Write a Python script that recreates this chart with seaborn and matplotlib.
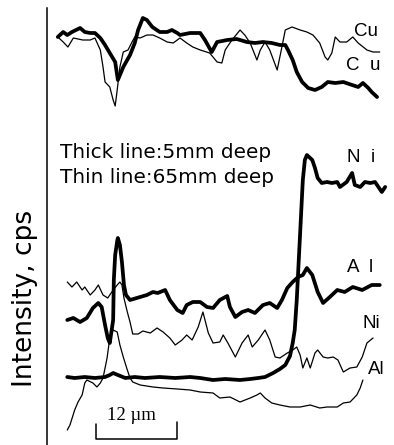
import numpy as np
import pandas as pd
import matplotlib
matplotlib.use("Agg")
import matplotlib.pyplot as plt
import seaborn as sns

sns.set_theme(style="white")
plt.rcParams["font.family"] = ["DejaVu Sans"]

# ---- data: position (um) and intensity (arbitrary cps units) ----
cu_5mm_x = [1.6, 2.4, 3.0, 3.7, 4.9, 5.6, 6.4, 7.1, 7.9, 8.6, 9.3, 10.1, 10.5, 11.3, 12.3, 13.0, 13.5, 14.2, 14.8, 15.6,
            16.7, 17.8, 18.5, 19.3, 19.7, 21.2, 22.7, 23.4, 24.4, 25.2, 26.7, 28.1, 29.6, 30.8, 32.0, 33.3, 34.5, 35.3,
            35.7, 36.4, 37.0, 37.8, 38.7, 39.7, 40.7, 41.6, 42.7, 43.9, 45.2, 46.1, 46.8, 47.6, 48.1, 48.9]
cu_5mm_y = [408, 413, 410, 413, 417, 413, 412, 412, 407, 400, 392, 383, 365, 378, 390, 402, 415, 427, 425, 418,
            413, 413, 415, 412, 410, 412, 412, 405, 393, 403, 405, 406, 403, 402, 403, 402, 400, 400, 395, 385,
            373, 363, 357, 355, 358, 363, 362, 363, 360, 358, 362, 357, 353, 348]

cu_65mm_x = [1.6, 2.4, 3.1, 3.9, 5.3, 6.4, 7.1, 7.9, 8.3, 8.6, 9.3, 9.8, 10.1, 10.4, 10.8, 11.3, 12.0, 12.6, 13.0, 13.8,
             14.8, 15.7, 16.7, 17.8, 18.7, 19.7, 20.7, 21.6, 22.7, 24.1, 25.2, 25.9, 26.4, 27.4, 28.6, 29.3, 30.1, 31.1,
             31.6, 32.3, 33.0, 34.1, 34.8, 35.3, 36.3, 37.5, 38.5, 39.4, 40.4, 41.2, 41.6, 42.2, 42.7, 43.4, 44.4, 45.3,
             46.1, 47.4, 48.3, 49.3]
cu_65mm_y = [408, 403, 398, 407, 405, 405, 407, 395, 378, 363, 358, 345, 339, 355, 378, 393, 395, 403, 408, 407,
             410, 410, 407, 403, 402, 407, 402, 398, 395, 392, 383, 382, 395, 405, 415, 410, 402, 385, 395, 403,
             395, 375, 398, 415, 418, 415, 413, 410, 402, 388, 385, 392, 408, 403, 403, 408, 402, 395, 393, 393]

ni_5mm_x = [3.0, 4.1, 5.6, 7.1, 8.6, 9.3, 9.8, 10.5, 11.6, 13.0, 14.5, 16.7, 19.0, 21.2, 22.7, 24.6, 26.4, 28.6, 30.1, 31.3,
            32.3, 33.5, 34.5, 35.3, 36.0, 36.4, 36.7, 37.0, 37.3, 37.6, 37.9, 38.2, 38.5, 39.3, 39.7, 40.1, 40.7, 41.5,
            42.2, 43.0, 43.4, 44.4, 45.2, 45.6, 46.4, 47.1, 47.9, 48.6, 49.6, 50.1]
ni_5mm_y = [68, 67, 68, 67, 68, 70, 72, 70, 67, 68, 67, 68, 67, 68, 67, 65, 66, 65, 66, 67,
            68, 72, 76, 80, 89, 102, 115, 145, 185, 225, 265, 285, 290, 285, 277, 267, 262, 263, 262, 263,
            258, 263, 272, 260, 258, 263, 262, 263, 253, 258]

ni_65mm_x = [3.0, 3.7, 4.4, 5.2, 5.6, 6.4, 7.1, 7.6, 8.3, 9.0, 9.6, 10.4, 10.8, 11.1, 11.4, 11.9, 12.3, 12.7, 13.5, 14.2,
             15.3, 16.3, 17.2, 18.2, 19.0, 20.0, 20.7, 21.5, 22.4, 23.1, 23.9, 24.6, 25.6, 26.1, 26.8, 27.9, 28.9, 29.8,
             30.4, 31.3, 32.3, 33.0, 33.8, 34.5, 35.6, 36.4, 37.0, 37.5, 37.9, 38.5, 39.0, 39.7, 40.1, 40.9, 41.6, 42.4,
             43.1, 43.9, 44.9, 45.9, 46.7, 47.4, 48.3]
ni_65mm_y = [163, 158, 163, 155, 158, 150, 155, 160, 150, 147, 153, 160, 163, 160, 147, 133, 123, 111, 111, 114,
             112, 117, 113, 107, 100, 105, 110, 105, 118, 133, 112, 102, 103, 110, 102, 88, 102, 110, 98, 105,
             115, 105, 88, 87, 92, 95, 98, 90, 77, 87, 77, 92, 95, 88, 87, 88, 85, 73, 77, 78,
             88, 102, 107]

al_5mm_x = [3.0, 3.9, 4.9, 5.9, 6.8, 7.6, 8.1, 8.6, 9.0, 9.3, 9.8, 9.9, 10.1, 10.4, 10.5, 10.8, 11.1, 11.4, 11.7, 12.3,
            13.3, 14.8, 15.7, 16.4, 17.5, 18.2, 19.3, 20.1, 20.7, 21.6, 22.7, 23.7, 24.6, 25.6, 26.7, 27.1, 27.9, 28.9,
            29.8, 30.8, 32.0, 33.0, 34.1, 34.8, 35.6, 36.4, 37.2, 37.9, 38.5, 39.3, 40.1, 40.9, 41.9, 43.0, 44.1, 45.3,
            46.7, 48.1, 49.3]
al_5mm_y = [125, 127, 123, 127, 137, 142, 138, 120, 107, 102, 125, 165, 190, 204, 207, 200, 183, 160, 150, 145,
            147, 150, 153, 152, 155, 145, 135, 132, 140, 143, 143, 138, 137, 145, 149, 138, 128, 133, 135, 132,
            140, 142, 137, 145, 157, 163, 168, 170, 177, 170, 153, 142, 148, 155, 153, 158, 155, 160, 160]

al_65mm_x = [3.0, 3.4, 4.1, 4.6, 5.2, 5.6, 5.9, 6.8, 7.4, 7.9, 8.3, 8.9, 9.3, 9.8, 10.4, 10.8, 11.3, 11.9, 12.3, 12.7,
             13.8, 15.7, 17.2, 19.3, 21.2, 22.7, 24.6, 25.6, 27.1, 28.6, 30.1, 31.1, 31.6, 32.3, 33.3, 34.5, 36.0, 37.5,
             39.0, 40.4, 41.5, 43.0, 43.9, 44.9, 45.9, 46.4, 46.8]
al_65mm_y = [15, 20, 35, 43, 50, 62, 65, 62, 58, 62, 67, 87, 107, 115, 113, 100, 88, 75, 67, 63,
             60, 58, 57, 56, 55, 53, 52, 47, 48, 43, 47, 50, 52, 47, 42, 40, 38, 38, 40, 37,
             38, 38, 42, 43, 50, 57, 65]

series = [
    ("Cu", "5mm", cu_5mm_x, cu_5mm_y),
    ("Cu", "65mm", cu_65mm_x, cu_65mm_y),
    ("Ni", "5mm", ni_5mm_x, ni_5mm_y),
    ("Ni", "65mm", ni_65mm_x, ni_65mm_y),
    ("Al", "5mm", al_5mm_x, al_5mm_y),
    ("Al", "65mm", al_65mm_x, al_65mm_y),
]
frames = []
for el, depth, xs, ys in series:
    frames.append(pd.DataFrame({"position": xs, "intensity": ys,
                                "element": el, "depth": depth,
                                "trace": f"{el}-{depth}"}))
df = pd.concat(frames, ignore_index=True)

# trace labels
label_text = ["Cu", "C  u", "N  i", "A  l", "Ni", "Al"]
label_x = [45.5, 44.3, 44.5, 44.5, 46.7, 47.5]
label_y = [414, 379, 287, 177, 122, 76]

scale_len_um = 12
scale_x0 = 7.3

# ---- figure ----
fig = plt.figure(figsize=(3.94, 4.45), dpi=100)
fig.patch.set_facecolor("white")
ax = fig.add_axes([47 / 394, 0, 347 / 394, 1])
ax.set_facecolor("white")

sns.lineplot(data=df, x="position", y="intensity", units="trace", estimator=None,
             sort=False, size="depth", sizes={"5mm": 2.7, "65mm": 0.9},
             color="black", legend=False, ax=ax,
             solid_joinstyle="round", solid_capstyle="round")

ax.set_xlim(0, 347 / 6.75)
ax.set_ylim(0, 445)
ax.set_xticks([])
ax.set_yticks([])
ax.set_xlabel("")
ax.set_ylabel("")
for s in ["top", "right", "bottom"]:
    ax.spines[s].set_visible(False)
ax.spines["left"].set_color("black")
ax.spines["left"].set_linewidth(1.1)
ax.spines["left"].set_bounds(0, 437)

for t, x, y in zip(label_text, label_x, label_y):
    ax.text(x, y, t, ha="left", va="center", fontsize=13.5,
            family=["Liberation Sans", "DejaVu Sans"], color="black")

ax.text(1.9, 287, "Thick line:5mm deep", ha="left", va="baseline", fontsize=14.4, color="black")
ax.text(1.9, 262, "Thin line:65mm deep", ha="left", va="baseline", fontsize=14.4, color="black")

# scale bar
ax.plot([scale_x0, scale_x0, scale_x0 + scale_len_um, scale_x0 + scale_len_um],
        [21, 6, 6, 23], color="black", lw=1.1)
ax.text(scale_x0 + scale_len_um / 2 - 0.8, 29, f"{scale_len_um} µm", ha="center", va="center",
        fontsize=13.5, family=["Liberation Serif", "DejaVu Serif"], color="black")

fig.text(25 / 394, 1 - 298 / 445, "Intensity, cps", rotation=90, ha="center", va="center",
         fontsize=19, color="black")

fig.savefig("out.png", dpi=100, facecolor="white")
